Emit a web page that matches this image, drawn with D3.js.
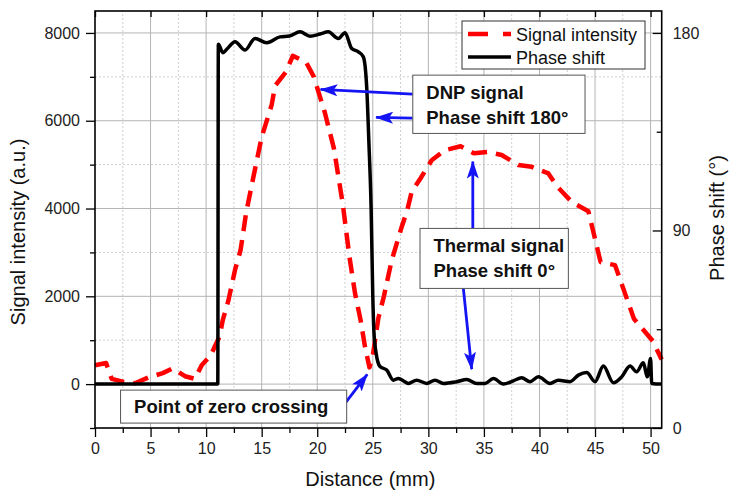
<!DOCTYPE html>
<html>
<head>
<meta charset="utf-8">
<script src="https://cdn.jsdelivr.net/npm/d3@7"></script>
<style>
	body { margin: 0; background: #fff; }
	svg text { font-family: Arial, "Liberation Sans", sans-serif; }
</style>
</head>
<body>
<svg id="chart" width="730" height="490"></svg>
<script>

// Signal intensity (a.u.), red dashed
var signalDist = [0, 1.0, 1.5, 2.6, 3.6, 4.8, 6.1, 7.0, 8.1, 9.0, 9.6, 10.4, 11.2, 11.5, 12.0, 12.6, 13.1, 13.6, 14.2, 15.0, 15.9, 16.2, 17.2, 17.8, 19.0, 19.7, 20.7, 21.5, 22.3, 22.9, 23.4, 23.9, 24.3, 24.7, 25.0, 25.5, 26.0, 26.7, 27.6, 28.1, 28.5, 29.3, 30.3, 31.5, 32.9, 34.1, 35.3, 36.6, 38.1, 39.3, 40.8, 41.6, 42.9, 44.4, 45.5, 46.8, 48.5, 50.2, 51];
var signalValues = [430, 480, 120, 50, 20, 150, 250, 360, 180, 120, 430, 650, 1080, 1460, 1900, 2600, 3050, 3900, 4650, 5630, 6360, 6790, 7120, 7480, 7330, 7000, 6170, 5370, 4100, 2900, 2070, 1460, 850, 380, 650, 1500, 2000, 2820, 3580, 3960, 4380, 4690, 5100, 5330, 5420, 5260, 5290, 5220, 4990, 4950, 4800, 4500, 4150, 3940, 2780, 2710, 1490, 980, 560];

// Phase shift (deg), black solid
var phaseDist = [0, 11.05, 11.1, 11.5, 11.9, 12.6, 13.5, 14.4, 15.45, 16.65, 17.5, 18.45, 19.35, 20.25, 21.0, 21.9, 22.5, 23.1, 23.7, 24.15, 24.45, 24.65, 24.85, 25.0, 25.1, 25.3, 25.65, 26.25, 26.85, 27.3, 27.9, 28.2, 28.95, 29.85, 30.6, 31.35, 32.55, 33.45, 34.35, 35.1, 35.85, 36.75, 37.65, 38.4, 39.15, 39.9, 40.95, 41.7, 42.75, 43.5, 44.25, 45.0, 45.75, 46.65, 47.4, 48.15, 48.75, 49.35, 49.7, 50.0, 50.1, 51];
var phaseValues = [20, 20, 174.9, 171.0, 172.8, 176.0, 172.2, 177.5, 175.5, 178.2, 178.6, 180.5, 178.5, 179.5, 180.5, 177.5, 180.1, 172.9, 171.4, 169.1, 155.4, 130, 100, 60, 44, 34, 28, 26.4, 21.8, 22.6, 21, 20.3, 21.8, 20.3, 21.8, 20.3, 21.1, 22.1, 20.3, 20.3, 22.6, 20, 21.5, 22.9, 21.1, 23.3, 20.3, 21.8, 21.1, 24.1, 25.3, 21.1, 28.2, 20.6, 23.3, 28.2, 25.6, 29.7, 23.3, 31.7, 20.3, 20];

var xTicks = [0, 5, 10, 15, 20, 25, 30, 35, 40, 45, 50];
var xMinorTicks = [2.5, 7.5, 12.5, 17.5, 22.5, 27.5, 32.5, 37.5, 42.5, 47.5];
var yTicks = [0, 2000, 4000, 6000, 8000];
var yMinorTicks = [-1000, 1000, 3000, 5000, 7000];
var phaseTicks = [0, 90, 180];
var phaseMinorTicks = [45, 135];

var legendLabels = ["Signal intensity", "Phase shift"];

var svg = d3.select("#chart");

var x = d3.scaleLinear().domain([0, 51]).range([95, 661.7]);
var y = d3.scaleLinear().domain([-1000, 8500]).range([428, 11]);
var yR = d3.scaleLinear().domain([0, 190]).range([428, 11]);

var blue = "#1414f5";

// Grid

var grid = svg.append("g");

grid.selectAll(".vminor").data(xMinorTicks).enter().append("line")
.attr("x1", function (d) { return x(d); }).attr("x2", function (d) { return x(d); })
.attr("y1", y(-1000)).attr("y2", y(8500))
.attr("stroke", "#cfcfcf").attr("stroke-dasharray", "2,2");

grid.selectAll(".hminor").data(yMinorTicks.slice(1)).enter().append("line")
.attr("x1", x(0)).attr("x2", x(51))
.attr("y1", function (d) { return y(d); }).attr("y2", function (d) { return y(d); })
.attr("stroke", "#cfcfcf").attr("stroke-dasharray", "2,2");

grid.selectAll(".vmajor").data(xTicks.slice(1)).enter().append("line")
.attr("x1", function (d) { return x(d); }).attr("x2", function (d) { return x(d); })
.attr("y1", y(-1000)).attr("y2", y(8500))
.attr("stroke", "#b4b4b4");

grid.selectAll(".hmajor").data(yTicks).enter().append("line")
.attr("x1", x(0)).attr("x2", x(51))
.attr("y1", function (d) { return y(d); }).attr("y2", function (d) { return y(d); })
.attr("stroke", "#b4b4b4");

// Lines

var signalData = signalDist.map(function (d, i) { return [d, signalValues[i]]; });
var phaseData = phaseDist.map(function (d, i) { return [d, phaseValues[i]]; });

svg.append("path")
.datum(signalData)
.attr("fill", "none")
.attr("stroke", "#ff0000")
.attr("stroke-width", 4.5)
.attr("stroke-dasharray", "16,9")
.attr("stroke-linejoin", "round")
.attr("d", d3.line().x(function (d) { return x(d[0]); }).y(function (d) { return y(d[1]); }));

svg.append("path")
.datum(phaseData)
.attr("fill", "none")
.attr("stroke", "#000")
.attr("stroke-width", 3.5)
.attr("stroke-linejoin", "round")
.attr("d", d3.line().curve(d3.curveMonotoneX).x(function (d) { return x(d[0]); }).y(function (d) { return yR(d[1]); }));

// Axes

function styleAxis(g) {
	g.select(".domain").remove();
	g.selectAll(".tick line").attr("stroke", "#000").attr("stroke-width", 1.3);
	g.selectAll(".tick text").attr("fill", "#222").style("font-size", "16px");
}

svg.append("g").attr("transform", "translate(0," + y(-1000) + ")")
.call(d3.axisBottom(x).tickValues(xTicks).tickSize(9).tickPadding(6)).call(styleAxis);
svg.append("g").attr("transform", "translate(0," + y(-1000) + ")")
.call(d3.axisBottom(x).tickValues(xMinorTicks).tickSize(5).tickFormat("")).call(styleAxis);
svg.append("g").attr("transform", "translate(0," + y(8500) + ")")
.call(d3.axisTop(x).tickValues(xTicks).tickSize(-6).tickFormat("")).call(styleAxis);

svg.append("g").attr("transform", "translate(" + x(0) + ",0)")
.call(d3.axisLeft(y).tickValues(yTicks).tickSize(9).tickPadding(6).tickFormat(d3.format("d"))).call(styleAxis);
svg.append("g").attr("transform", "translate(" + x(0) + ",0)")
.call(d3.axisLeft(y).tickValues(yMinorTicks).tickSize(5).tickFormat("")).call(styleAxis);

svg.append("g").attr("transform", "translate(" + x(51) + ",0)")
.call(d3.axisRight(yR).tickValues(phaseTicks).tickSize(-9).tickPadding(11)).call(styleAxis);
svg.append("g").attr("transform", "translate(" + x(51) + ",0)")
.call(d3.axisRight(yR).tickValues(phaseMinorTicks).tickSize(-5).tickFormat("")).call(styleAxis);

// Frame
svg.append("rect")
.attr("x", x(0)).attr("y", y(8500))
.attr("width", x(51) - x(0)).attr("height", y(-1000) - y(8500))
.attr("fill", "none").attr("stroke", "#000").attr("stroke-width", 1.6);

// Axis titles

svg.append("text")
.attr("x", (x(0) + x(51)) / 2 - 8).attr("y", 486)
.attr("text-anchor", "middle").style("font-size", "20px").attr("fill", "#111")
.text("Distance (mm)");

svg.append("text")
.attr("transform", "translate(25," + 232 + ") rotate(-90)")
.attr("text-anchor", "middle").style("font-size", "20px").attr("fill", "#111")
.text("Signal intensity (a.u.)");

svg.append("text")
.attr("transform", "translate(724," + 218 + ") rotate(-90)")
.attr("text-anchor", "middle").style("font-size", "20px").attr("fill", "#111")
.text("Phase shift (°)");

// Legend

var legend = svg.append("g");

legend.append("rect")
.attr("x", 462).attr("y", 21).attr("width", 183).attr("height", 48)
.attr("fill", "#fff").attr("stroke", "#333").attr("stroke-width", 1);

legend.append("line")
.attr("x1", 468).attr("x2", 511).attr("y1", 34).attr("y2", 34)
.attr("stroke", "#ff0000").attr("stroke-width", 4.5).attr("stroke-dasharray", "20,15");

legend.append("line")
.attr("x1", 468).attr("x2", 511).attr("y1", 57).attr("y2", 57)
.attr("stroke", "#000").attr("stroke-width", 3.5);

legend.selectAll(".lbl").data(legendLabels).enter().append("text")
.attr("x", 516).attr("y", function (d, i) { return 40.5 + i * 23; })
.style("font-size", "18px").attr("fill", "#111")
.text(function (d) { return d; });

// Annotations

svg.append("defs").append("marker")
.attr("id", "arrow")
.attr("viewBox", "0 0 18 12")
.attr("refX", 17).attr("refY", 6)
.attr("markerUnits", "userSpaceOnUse")
.attr("markerWidth", 18).attr("markerHeight", 12)
.attr("orient", "auto")
.append("path")
.attr("d", "M0,0L18,6L0,12L4,6Z")
.attr("fill", blue);

function note(x0, y0, x1, y1, lines, dy) {
	var g = svg.append("g");
	g.append("rect")
	.attr("x", x(x0)).attr("y", y(y0))
	.attr("width", x(x1) - x(x0)).attr("height", y(y1) - y(y0))
	.attr("fill", "#fff").attr("stroke", "#555").attr("stroke-width", 1);
	g.selectAll("text").data(lines).enter().append("text")
	.attr("x", x(x0) + 13.5)
	.attr("y", function (d, i) { return y(y0) + dy + i * 25; })
	.style("font-size", "18.5px").style("font-weight", "bold").attr("fill", "#111")
	.text(function (d) { return d; });
}

function arrow(x0, y0, x1, y1) {
	svg.append("line")
	.attr("x1", x(x0)).attr("y1", y(y0))
	.attr("x2", x(x1)).attr("y2", y(y1))
	.attr("stroke", blue).attr("stroke-width", 2.8)
	.attr("marker-end", "url(#arrow)");
}

arrow(28.6, 6606, 20.3, 6713);
arrow(28.6, 6060, 25.3, 6075);
note(28.6, 7039, 44.1, 5711, ["DNP signal", "Phase shift 180°"], 24);

arrow(34.0, 3554, 34.0, 5070);
arrow(33.15, 2180, 33.9, 340);
note(29.25, 3547, 42.6, 2180, ["Thermal signal", "Phase shift 0°"], 23.5);

arrow(22.5, -440, 24.5, 220);
note(2.3, -137, 22.65, -888, ["Point of zero crossing"], 22.7);

</script>
</body>
</html>
